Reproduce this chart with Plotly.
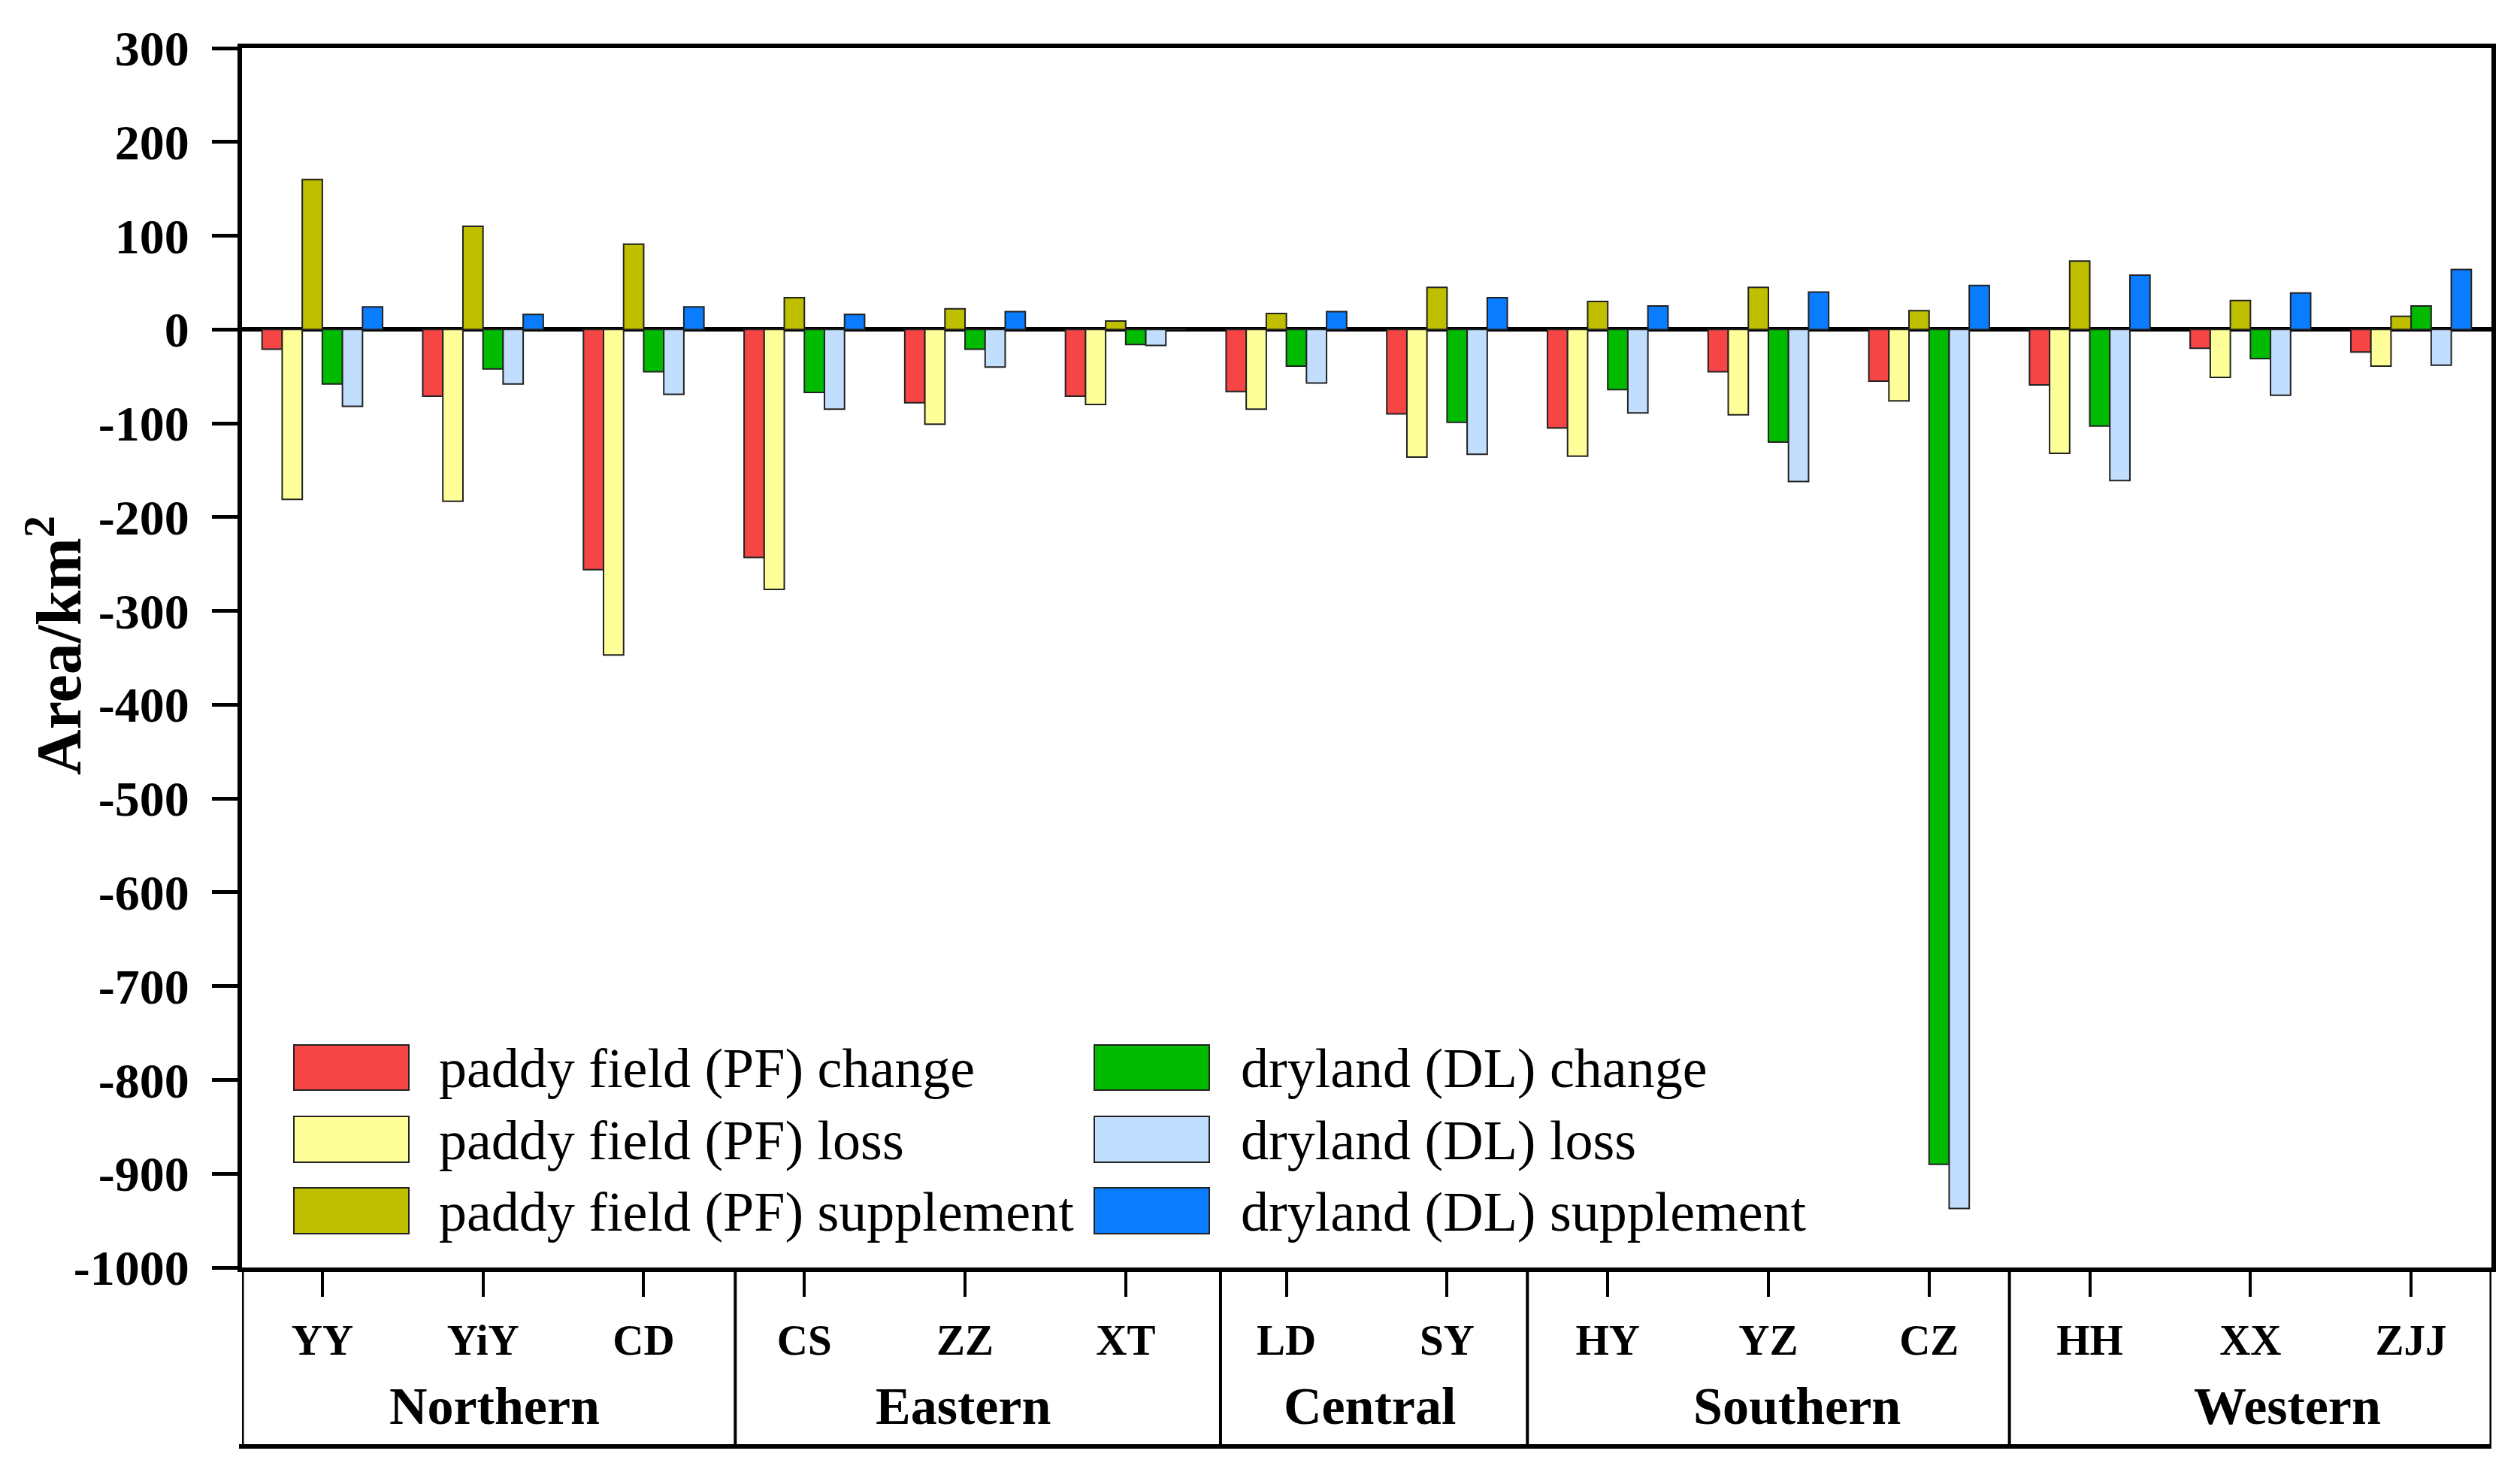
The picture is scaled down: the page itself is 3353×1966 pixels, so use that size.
import plotly.graph_objects as go

# ---------------- data ----------------
categories = ["YY", "YiY", "CD", "CS", "ZZ", "XT", "LD", "SY", "HY", "YZ", "CZ", "HH", "XX", "ZJJ"]
regions = ["Northern", "Eastern", "Central", "Southern", "Western"]
region_sizes = [3, 3, 2, 3, 3]

pf_change = [-21, -71, -256, -243, -78, -71, -66, -90, -105, -45, -55, -59, -20, -24]
pf_loss = [-181, -183, -347, -277, -101, -80, -85, -136, -135, -91, -76, -132, -51, -39]
pf_supplement = [160, 110, 91, 34, 22, 9, 17, 45, 30, 45, 20, 73, 31, 14]
dl_change = [-58, -42, -45, -67, -21, -16, -39, -99, -64, -120, -890, -103, -31, 25]
dl_loss = [-82, -58, -69, -85, -40, -17, -57, -133, -89, -162, -937, -161, -70, -38]
dl_supplement = [24, 16, 24, 16, 19, 0, 19, 34, 25, 40, 47, 58, 39, 64]

series_names = [
    "paddy field (PF) change", "paddy field (PF) loss", "paddy field (PF) supplement",
    "dryland (DL) change", "dryland (DL) loss", "dryland (DL) supplement",
]
series_values = [pf_change, pf_loss, pf_supplement, dl_change, dl_loss, dl_supplement]
colors = ["#F64545", "#FFFF99", "#BFBF00", "#00BB00", "#C2DEFF", "#0A7CFF"]

y_ticks = list(range(-1000, 301, 100))

# ---------------- layout geometry (pixels, page coordinates) ----------------
W, H = 3353, 1966
OFF = 8  # page body margin
FW, FH = W - 2 * OFF, H - 2 * OFF
PL, PR, PT, PB = 322 - OFF, 3315 - OFF, 64 - OFF, 1686 - OFF
FONT = "Liberation Serif"


def px_x(px):
    return (px - OFF - PL) / (PR - PL)


def px_y(py):
    return (PB - (py - OFF)) / (PB - PT)


fig = go.Figure()
for name, vals, col in zip(series_names, series_values, colors):
    fig.add_trace(go.Bar(
        x=categories, y=vals, name=name,
        marker=dict(color=col, line=dict(color="#222222", width=2)),
        showlegend=False,
    ))

fig.update_layout(
    width=FW, height=FH,
    margin=dict(l=PL, r=FW - PR, t=PT, b=FH - PB, autoexpand=False),
    paper_bgcolor="white", plot_bgcolor="white",
    barmode="group", bargap=0.25, bargroupgap=0,
    font=dict(family=FONT, color="black"),
)

fig.update_yaxes(
    range=[-1000, 300], tickvals=y_ticks, ticktext=[str(v) for v in y_ticks],
    showgrid=False, zeroline=True, zerolinecolor="black", zerolinewidth=6,
    showline=True, linecolor="black", linewidth=6, mirror=True,
    ticks="outside", ticklen=34, tickwidth=5, tickcolor="black",
    tickfont=dict(family=FONT, size=66, color="black", weight="bold"),
    ticklabelstandoff=17,
)
fig.update_xaxes(
    range=[-0.5, len(categories) - 0.5], type="category",
    showgrid=False, showline=True, linecolor="black", linewidth=6, mirror=True,
    ticks="outside", ticklen=33, tickwidth=4, tickcolor="black",
    tickfont=dict(family=FONT, size=57, color="black", weight="bold"),
    ticklabelstandoff=9,
)

shapes = []
# bottom category box
y_box = px_y(1924)
shapes.append(dict(type="line", xref="paper", yref="paper", x0=px_x(318), x1=1, y0=y_box, y1=y_box,
                   line=dict(color="black", width=6)))
bounds = [-0.5]
acc = 0
for s in region_sizes:
    acc += s
    bounds.append(acc - 0.5)
divider_shift = [0, 0.07, 0.09, 0, 0, 0]
for i, (b, sh) in enumerate(zip(bounds, divider_shift)):
    w = 5 if i in (0, len(bounds) - 1) else 4
    shapes.append(dict(type="line", xref="x", yref="paper", x0=b + sh, x1=b + sh, y0=0, y1=y_box,
                       line=dict(color="black", width=w)))

annotations = []
# region labels
label_offsets = [0.07, -0.01, 0.02, 0.18, 0.23]
start = 0
for reg, s, off in zip(regions, region_sizes, label_offsets):
    center = start + (s - 1) / 2 + off
    annotations.append(dict(x=center, xref="x", y=px_y(1870), yref="paper", text=reg,
                            showarrow=False, xanchor="center", yanchor="middle",
                            font=dict(family=FONT, size=70, color="black", weight="bold")))
    start += s

# y-axis title
annotations.append(dict(x=px_x(72), xref="paper", y=px_y(858), yref="paper",
                        text="Area/km<sup>2</sup>", textangle=-90, showarrow=False,
                        xanchor="center", yanchor="middle",
                        font=dict(family=FONT, size=84, color="black", weight="bold")))

# manual legend (two columns x three rows)
sw_cols = [(391, 544, 582), (1456, 1609, 1649)]
sw_rows = [(1390, 1450), (1485, 1546), (1580, 1641)]
for k, (name, col) in enumerate(zip(series_names, colors)):
    cx0, cx1, tx = sw_cols[k // 3]
    ry0, ry1 = sw_rows[k % 3]
    shapes.append(dict(type="rect", xref="paper", yref="paper",
                       x0=px_x(cx0), x1=px_x(cx1), y0=px_y(ry1), y1=px_y(ry0),
                       fillcolor=col, line=dict(color="#222222", width=2)))
    annotations.append(dict(x=px_x(tx), xref="paper", y=px_y((ry0 + ry1) / 2 + 1), yref="paper",
                            text=name, showarrow=False, xanchor="left", yanchor="middle",
                            font=dict(family=FONT, size=74, color="black")))

fig.update_layout(shapes=shapes, annotations=annotations)

fig.write_html("out.html")
